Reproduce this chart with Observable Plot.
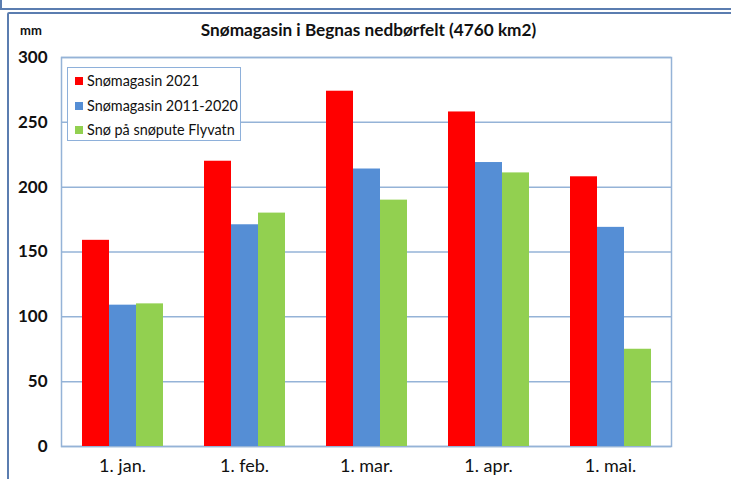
<!DOCTYPE html>
<html>
<head>
<meta charset="utf-8">
<script src="https://cdn.jsdelivr.net/npm/d3@7"></script>
<script src="https://cdn.jsdelivr.net/npm/@observablehq/plot@0.6"></script>
<style>
  html, body { margin: 0; padding: 0; background: #fff; }
  #wrap { position: relative; width: 731px; height: 479px; overflow: hidden; font-family: Lato, "Open Sans", sans-serif; }
  #boxTop { position: absolute; left: 0; top: -10px; width: 760px; height: 16px; border: 2px solid #5b7db0; }
  #boxMain { position: absolute; left: 7px; top: 12px; width: 760px; height: 500px; border: 2px solid #5b7db0; border-radius: 2px; }
  #chart { position: absolute; left: 0; top: 0; }
  #title { position: absolute; left: 0; width: 731px; top: 19px; text-align: center; font-weight: bold; font-size: 17.2px; color: #111; padding-left: 6px; box-sizing: border-box; }
  #unit { position: absolute; left: 20px; top: 22px; font-weight: bold; font-size: 13px; color: #111; }
  #legend { position: absolute; left: 67px; top: 67px; width: 174px; height: 74px; border: 1.5px solid #8eb0da; background: #fff; box-sizing: border-box; }
  #legend .item { position: absolute; left: 7px; font-size: 14.4px; color: #111; white-space: nowrap; line-height: 18px; }
  #legend .sw { display: inline-block; width: 8px; height: 8px; margin-right: 4px; vertical-align: 1px; }
</style>
</head>
<body>
<div id="wrap">
  <div id="boxTop"></div>
  <div id="boxMain"></div>
  <div id="chart"></div>
  <div id="unit">mm</div>
  <div id="title">Snømagasin i Begnas nedbørfelt (4760 km2)</div>
  <div id="legend"></div>
</div>
<script>
const months = ["1. jan.", "1. feb.", "1. mar.", "1. apr.", "1. mai."];
const seriesNames = ["Snømagasin 2021", "Snømagasin 2011-2020", "Snø på snøpute Flyvatn"];
const snow2021 = [159, 220, 274, 258, 208];
const snow2011_2020 = [109, 171, 214, 219, 169];
const snowFlyvatn = [110, 180, 190, 211, 75];
const yTicks = [0, 50, 100, 150, 200, 250, 300];
const colors = ["#ff0000", "#558ed5", "#92d050"];

const seriesValues = [snow2021, snow2011_2020, snowFlyvatn];
const data = [];
months.forEach((m, i) => {
  seriesNames.forEach((s, j) => data.push({month: m, series: s, value: seriesValues[j][i]}));
});

const gridColor = "#95b3d7";

const chart = Plot.plot({
  width: 731,
  height: 479,
  marginTop: 57,
  marginBottom: 33,
  marginLeft: 59,
  marginRight: 59,
  style: {fontFamily: "Lato, 'Open Sans', sans-serif", background: "transparent", color: "#111"},
  fx: {domain: months, padding: 0, label: null, tickSize: 0, tickPadding: 13, axis: "bottom", fontSize: 18},
  x: {domain: seriesNames, paddingInner: 0, paddingOuter: 0.745, axis: null},
  y: {domain: [0, 300], ticks: yTicks, label: null, tickSize: 0, tickPadding: 14, fontSize: 17, fontWeight: "bold"},
  color: {domain: seriesNames, range: colors},
  marks: [
    Plot.ruleY(yTicks, {stroke: gridColor, strokeWidth: 1.5, strokeOpacity: 1}),
    Plot.frame({stroke: gridColor, strokeWidth: 1.5, facet: "super"}),
    Plot.barY(data, {fx: "month", x: "series", y: "value", fill: "series"})
  ]
});
document.getElementById("chart").appendChild(chart);
d3.select(chart).select("g[aria-label='y-axis tick label']").attr("font-size", 17).attr("font-weight", "bold");
d3.select(chart).select("g[aria-label='fx-axis tick label']").attr("font-size", 18);

const legend = document.getElementById("legend");
seriesNames.forEach((s, j) => {
  const it = document.createElement("div");
  it.className = "item";
  it.style.top = (4 + j * 24.5) + "px";
  it.innerHTML = `<span class="sw" style="background:${colors[j]}"></span>${s}`;
  legend.appendChild(it);
});
</script>
</body>
</html>
